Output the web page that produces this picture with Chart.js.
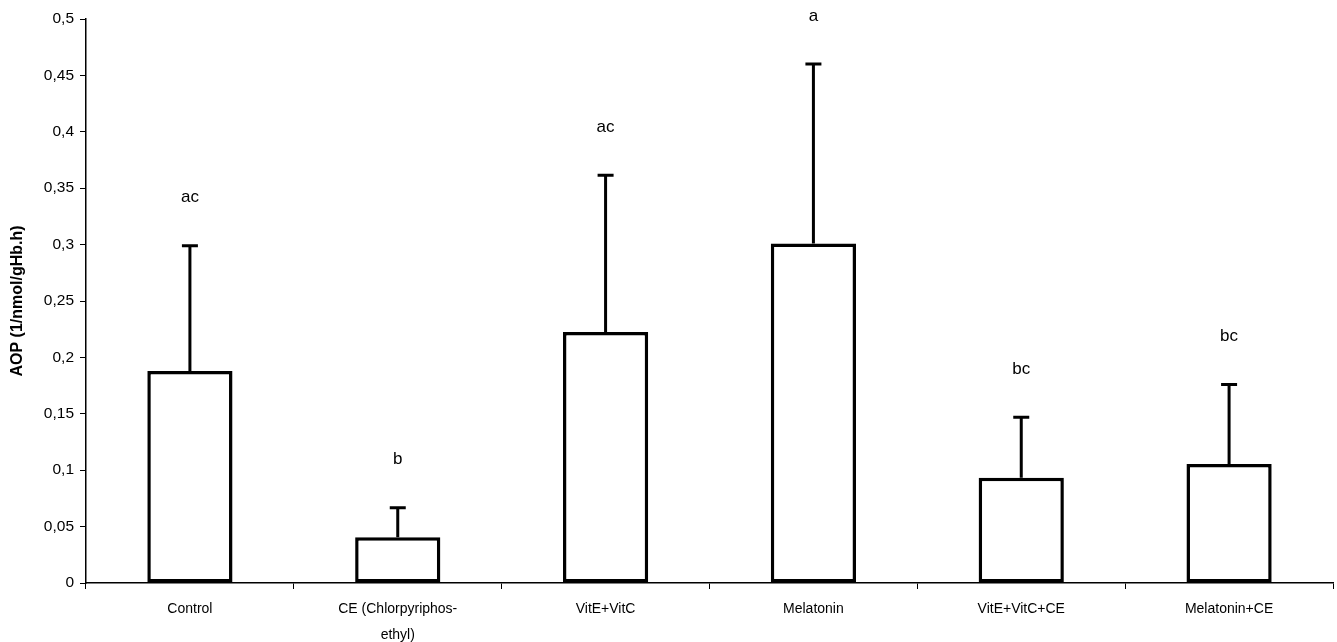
<!DOCTYPE html>
<html>
<head>
<meta charset="utf-8">
<script src="https://cdn.jsdelivr.net/npm/chart.js@4/dist/chart.umd.min.js"></script>
<style>
  html, body { margin: 0; padding: 0; background: #fff; }
  #wrap { width: 1337px; height: 642px; }
</style>
</head>
<body>
<div id="wrap"><canvas id="aopChart" width="1337" height="642"></canvas></div>
<script>
// groups on the x axis
const groups = ['Control', ['CE (Chlorpyriphos-', 'ethyl)'], 'VitE+VitC', 'Melatonin', 'VitE+VitC+CE', 'Melatonin+CE'];
// mean AOP values
const means = [0.188, 0.0405, 0.2225, 0.301, 0.0934, 0.1055];
// standard deviations (upper error bar)
const sds = [0.111, 0.0263, 0.139, 0.159, 0.0536, 0.0705];
// significance letters
const letters = ['ac', 'b', 'ac', 'a', 'bc', 'bc'];
const yTitle = 'AOP (1/nmol/gHb.h)';

const fontFam = '"Liberation Sans", Arial, sans-serif';

// draws the error whiskers and letters above each bar
const errorBars = {
    id: 'errorBars',
    afterDatasetsDraw(chart) {
        const ctx = chart.ctx;
        const meta = chart.getDatasetMeta(0);
        const y = chart.scales.y;
        ctx.save();
        ctx.strokeStyle = '#000';
        ctx.fillStyle = '#000';
        ctx.lineWidth = 3;
        ctx.font = '17px ' + fontFam;
        ctx.textAlign = 'center';
        ctx.textBaseline = 'middle';
        meta.data.forEach((bar, i) => {
            const yTop = y.getPixelForValue(means[i] + sds[i]);
            const yMean = y.getPixelForValue(means[i]);
            ctx.beginPath();
            ctx.moveTo(bar.x, yMean);
            ctx.lineTo(bar.x, yTop);
            ctx.moveTo(bar.x - 8, yTop);
            ctx.lineTo(bar.x + 8, yTop);
            ctx.stroke();
            ctx.fillText(letters[i], bar.x, yTop - 48);
        });
        ctx.restore();
    }
};

new Chart(document.getElementById('aopChart'), {
    type: 'bar',
    data: {
        labels: groups,
        datasets: [{
            data: means,
            backgroundColor: '#fff',
            borderColor: '#000',
            borderWidth: 3.5,
            borderSkipped: false,
            barPercentage: 0.41,
            categoryPercentage: 1
        }]
    },
    options: {
        responsive: false,
        animation: false,
        layout: { padding: { top: 19, right: 4, left: 0, bottom: 0 } },
        plugins: { legend: { display: false }, tooltip: { enabled: false } },
        scales: {
            x: {
                grid: { drawOnChartArea: false, color: '#000', tickLength: 6, offset: true },
                border: { color: '#000', width: 1.5 },
                ticks: {
                    color: '#000',
                    font: { family: fontFam, size: 14, lineHeight: 1.85 },
                    maxRotation: 0,
                    autoSkip: false,
                    padding: 7
                },
                afterFit(scale) { scale.height = 59; }
            },
            y: {
                min: 0,
                max: 0.5,
                grid: { drawOnChartArea: false, color: '#000', tickLength: 6 },
                border: { color: '#000', width: 1.5 },
                ticks: {
                    stepSize: 0.05,
                    color: '#000',
                    font: { family: fontFam, size: 15.5 },
                    padding: 6,
                    callback: v => String(parseFloat(v.toFixed(2))).replace('.', ',')
                },
                title: {
                    display: true,
                    text: yTitle,
                    color: '#000',
                    font: { family: fontFam, size: 16, weight: 'bold' },
                    padding: { top: 8, bottom: 0 }
                },
                afterFit(scale) { scale.width = 86; }
            }
        }
    },
    plugins: [errorBars]
});
</script>
</body>
</html>
